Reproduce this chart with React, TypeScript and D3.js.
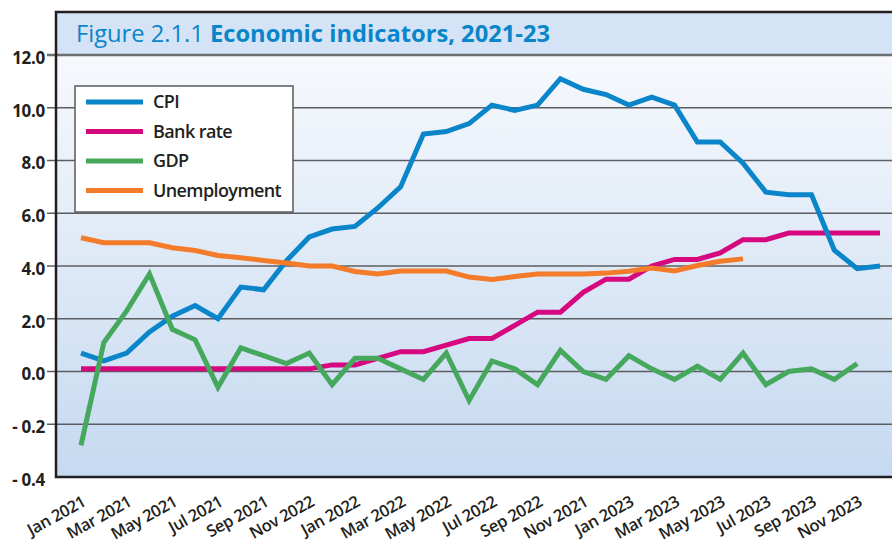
import React, { useEffect, useRef } from 'react';
import * as d3 from 'd3';

const xLabels = [
  'Jan 2021', 'Mar 2021', 'May 2021', 'Jul 2021', 'Sep 2021', 'Nov 2022',
  'Jan 2022', 'Mar 2022', 'May 2022', 'Jul 2022', 'Sep 2022', 'Nov 2021',
  'Jan 2023', 'Mar 2023', 'May 2023', 'Jul 2023', 'Sep 2023', 'Nov 2023',
];

// monthly values, Jan 2021 onwards
const cpi = [
  0.7, 0.4, 0.7, 1.5, 2.1, 2.5, 2.0, 3.2, 3.1, 4.2, 5.1, 5.4,
  5.5, 6.2, 7.0, 9.0, 9.1, 9.4, 10.1, 9.9, 10.1, 11.1, 10.7, 10.5,
  10.1, 10.4, 10.1, 8.7, 8.7, 7.9, 6.8, 6.7, 6.7, 4.6, 3.9, 4.0,
];
const bankRate = [
  0.1, 0.1, 0.1, 0.1, 0.1, 0.1, 0.1, 0.1, 0.1, 0.1, 0.1, 0.25,
  0.25, 0.5, 0.75, 0.75, 1.0, 1.25, 1.25, 1.75, 2.25, 2.25, 3.0, 3.5,
  3.5, 4.0, 4.25, 4.25, 4.5, 5.0, 5.0, 5.25, 5.25, 5.25, 5.25, 5.25,
];
const gdp = [
  -2.8, 1.1, 2.3, 3.7, 1.6, 1.2, -0.6, 0.9, 0.6, 0.3, 0.7, -0.5,
  0.5, 0.5, 0.1, -0.3, 0.7, -1.1, 0.4, 0.1, -0.5, 0.8, 0.0, -0.3,
  0.6, 0.1, -0.3, 0.2, -0.3, 0.7, -0.5, 0.0, 0.1, -0.3, 0.3,
];
const unemployment = [
  5.07, 4.88, 4.88, 4.88, 4.69, 4.59, 4.4, 4.31, 4.21, 4.11, 4.0, 4.0,
  3.79, 3.7, 3.81, 3.81, 3.81, 3.58, 3.49, 3.6, 3.7, 3.7, 3.7, 3.73,
  3.8, 3.92, 3.81, 4.02, 4.18, 4.27,
];

const yTicks = [12, 10, 8, 6, 4, 2, 0, -2, -4];
const yTickLabels = ['12.0', '10.0', '8.0', '6.0', '4.0', '2.0', '0.0', '- 0.2', '- 0.4'];

const seriesNames = ['CPI', 'Bank rate', 'GDP', 'Unemployment'];
const seriesColors = ['#0a85c9', '#d5087f', '#46a85c', '#f47b2a'];

const App: React.FC = () => {
  const svgRef = useRef<SVGSVGElement>(null);

  useEffect(() => {
    if (!svgRef.current) return;
    const svg = d3.select(svgRef.current);
    svg.selectAll('*').remove();

    const W = 892;
    const left = 56;
    const top = 12;
    const plotTop = 55;
    const bottom = 477;

    const x = d3.scaleLinear().domain([0, cpi.length - 1]).range([81, 880]);
    const y = d3.scaleLinear().domain([-4, 12]).range([bottom, plotTop]);

    const defs = svg.append('defs');
    const grad = defs.append('linearGradient')
      .attr('id', 'bg')
      .attr('x1', 0).attr('y1', 0).attr('x2', 0).attr('y2', 1);
    grad.append('stop').attr('offset', '0%').attr('stop-color', '#f7f9fd');
    grad.append('stop').attr('offset', '100%').attr('stop-color', '#c5d9f0');

    // plot background
    svg.append('rect')
      .attr('x', left).attr('y', plotTop)
      .attr('width', W - left).attr('height', bottom - plotTop)
      .attr('fill', 'url(#bg)');

    // title band
    svg.append('rect')
      .attr('x', left).attr('y', top)
      .attr('width', W - left).attr('height', plotTop - top)
      .attr('fill', '#d4e3f5');

    const title = svg.append('text')
      .attr('x', 76).attr('y', 42)
      .attr('font-family', '"Open Sans", sans-serif')
      .attr('font-size', 24)
      .attr('fill', '#0a85c9')
      .attr('textLength', 474)
      .attr('lengthAdjust', 'spacingAndGlyphs');
    title.append('tspan').text('Figure 2.1.1 ');
    title.append('tspan').attr('font-weight', 'bold').text('Economic indicators, 2021-23');

    // gridlines (extend a little left of the axis)
    svg.append('g')
      .selectAll('line')
      .data(yTicks.filter(t => t !== -4))
      .enter()
      .append('line')
      .attr('x1', 47).attr('x2', W)
      .attr('y1', d => y(d)).attr('y2', d => y(d))
      .attr('stroke', d => (d === 12 ? '#6d6e71' : '#5c5d60'))
      .attr('stroke-width', d => (d === 12 ? 2.5 : 1.5));

    // y tick labels
    svg.append('g')
      .selectAll('text')
      .data(yTicks)
      .enter()
      .append('text')
      .attr('x', 45)
      .attr('y', d => y(d) + 3)
      .attr('dy', '0.35em')
      .attr('text-anchor', 'end')
      .attr('font-family', '"Open Sans", sans-serif')
      .attr('font-weight', 'bold')
      .attr('font-size', 17)
      .attr('letter-spacing', -0.3)
      .attr('fill', '#231f20')
      .text((d, i) => yTickLabels[i]);

    // frame
    svg.append('path')
      .attr('d', `M${W},${top}H${left}V${bottom}H${W}`)
      .attr('fill', 'none')
      .attr('stroke', '#231f20')
      .attr('stroke-width', 2.5);

    // x labels every second month
    svg.append('g')
      .selectAll('text')
      .data(xLabels)
      .enter()
      .append('text')
      .attr('transform', (d, i) => `translate(${x(i * 2) + 6},${505}) rotate(-29)`)
      .attr('text-anchor', 'end')
      .attr('font-family', '"Open Sans", sans-serif')
      .attr('font-weight', 600)
      .attr('font-size', 16.5)
      .attr('letter-spacing', -0.4)
      .attr('fill', '#231f20')
      .text(d => d);

    const line = d3.line<number>()
      .x((d, i) => x(i))
      .y(d => y(d));

    const series = [cpi, bankRate, gdp, unemployment];
    const drawOrder = [1, 0, 2, 3];
    drawOrder.forEach(k => {
      svg.append('path')
        .datum(series[k])
        .attr('d', line)
        .attr('fill', 'none')
        .attr('stroke', seriesColors[k])
        .attr('stroke-width', 5)
        .attr('stroke-linejoin', 'miter')
        .attr('stroke-linecap', 'butt');
    });

    // legend
    const lg = svg.append('g');
    lg.append('rect')
      .attr('x', 75).attr('y', 86)
      .attr('width', 218).attr('height', 126)
      .attr('fill', '#ffffff')
      .attr('stroke', '#58595b')
      .attr('stroke-width', 1.5);

    seriesNames.forEach((name, i) => {
      const ly = 102 + i * 29.5;
      lg.append('line')
        .attr('x1', 86).attr('x2', 143)
        .attr('y1', ly).attr('y2', ly)
        .attr('stroke', seriesColors[i])
        .attr('stroke-width', 5);
      lg.append('text')
        .attr('x', 153).attr('y', ly)
        .attr('dy', '0.35em')
        .attr('font-family', '"Open Sans", sans-serif')
        .attr('font-weight', 600)
        .attr('font-size', 18)
        .attr('letter-spacing', -0.6)
        .attr('fill', '#231f20')
        .text(name);
    });
  }, []);

  return (
    <svg
      ref={svgRef}
      width={892}
      height={546}
      style={{ position: 'absolute', left: 0, top: 0, display: 'block', background: '#ffffff' }}
    />
  );
};

export default App;
